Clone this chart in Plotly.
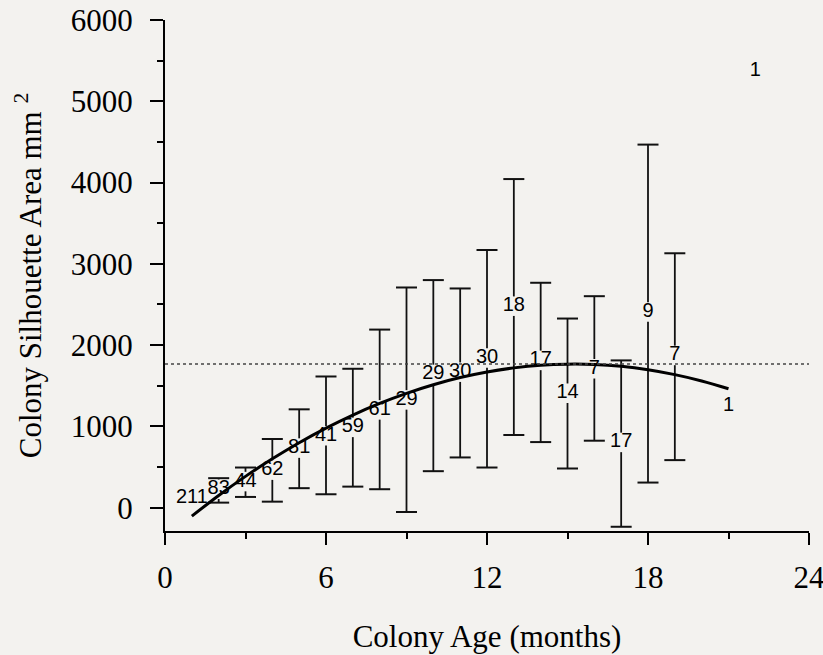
import plotly.graph_objects as go

# ---------------- data ----------------
months = [1, 2, 3, 4, 5, 6, 7, 8, 9, 10, 11, 12, 13, 14, 15, 16, 17, 18, 19, 21, 22]
n_labels = ["211", "83", "44", "62", "81", "41", "59", "61", "29", "29", "30", "30",
            "18", "17", "14", "7", "17", "9", "7", "1", "1"]
means = [125, 227, 321, 462, 733, 885, 988, 1203, 1326, 1639, 1667, 1840,
         2479, 1812, 1408, 1709, 803, 2408, 1873, 1256, 5368]
upper = [None, 363, 494, 845, 1210, 1614, 1709, 2191, 2709, 2800, 2697, 3170,
         4043, 2767, 2327, 2602, 1812, 4467, 3130, None, None]
lower = [None, 62, 132, 74, 240, 165, 259, 227, -53, 449, 618, 494,
         894, 807, 482, 824, -235, 309, 585, None, None]

fit_months = [1, 2, 3, 4, 5, 6, 7, 8, 9, 10, 11, 12, 13, 14, 15, 16, 17, 18, 19, 20, 21]
fit_values = [-104, 150, 385, 601, 799, 979, 1140, 1283, 1407, 1513, 1601, 1670,
              1720, 1753, 1766, 1762, 1739, 1697, 1637, 1559, 1463]

REF_LEVEL = 1767

x_ticks = [0, 6, 12, 18, 24]
x_minor_ticks = [3, 9, 15, 21]
y_ticks = [0, 1000, 2000, 3000, 4000, 5000, 6000]
y_minor_ticks = [500, 1500, 2500, 3500, 4500, 5500]

# ---------------- styling ----------------
BG = "#f3f2ef"
SERIF = "Liberation Serif"
SANS = "Liberation Sans"
GAP = 120  # half height (data units) of the break in each bar around its label

bar_x, bar_y, cap_x, cap_y = [], [], [], []
for m, mu, hi, lo in zip(months, means, upper, lower):
    if hi is None or lo is None:
        continue
    top_base = mu + GAP
    if hi > top_base:
        bar_x += [m, m, None]
        bar_y += [top_base, hi, None]
    bot_base = mu - GAP
    if lo < bot_base:
        bar_x += [m, m, None]
        bar_y += [bot_base, lo, None]
    cap_x += [m, m]
    cap_y += [hi, lo]

fig = go.Figure()

fig.add_hline(y=REF_LEVEL, line=dict(color="#444444", width=1.5, dash="dot"))

fig.add_trace(go.Scatter(x=bar_x, y=bar_y, mode="lines",
                         line=dict(color="#111111", width=1.8),
                         hoverinfo="skip", showlegend=False))
fig.add_trace(go.Scatter(x=cap_x, y=cap_y, mode="markers",
                         marker=dict(symbol="line-ew", size=15,
                                     line=dict(color="#111111", width=2)),
                         hoverinfo="skip", showlegend=False))
fig.add_trace(go.Scatter(x=fit_months, y=fit_values, mode="lines",
                         line=dict(color="black", width=3, shape="spline"),
                         hoverinfo="skip", showlegend=False))
fig.add_trace(go.Scatter(x=months, y=means, mode="text", text=n_labels,
                         textposition="middle center",
                         textfont=dict(family=SANS, size=20, color="black"),
                         showlegend=False))

fig.update_layout(
    width=823, height=655,
    margin=dict(l=165, r=14, t=20, b=124),
    paper_bgcolor=BG, plot_bgcolor=BG,
    showlegend=False,
    font=dict(family=SERIF, size=31, color="black"),
)

fig.update_xaxes(
    range=[0, 24], tickmode="array", tickvals=x_ticks,
    automargin=False, ticklabeloverflow="allow",
    ticks="outside", ticklen=12, tickwidth=2, tickcolor="black",
    showline=True, linewidth=2, linecolor="black",
    showgrid=False, zeroline=False,
    minor=dict(tickmode="array", tickvals=x_minor_ticks, ticks="outside",
               ticklen=6, tickwidth=2, tickcolor="black", showgrid=False),
    ticklabelstandoff=6,
    title=dict(text="Colony Age (months)", standoff=31,
               font=dict(family=SERIF, size=31)),
)
fig.update_yaxes(
    range=[-287, 6000], tickmode="array", tickvals=y_ticks,
    automargin=False, ticklabeloverflow="allow",
    ticks="outside", ticklen=13, tickwidth=2, tickcolor="black",
    showline=True, linewidth=2, linecolor="black",
    showgrid=False, zeroline=False,
    minor=dict(tickmode="array", tickvals=y_minor_ticks, ticks="outside",
               ticklen=6, tickwidth=2, tickcolor="black", showgrid=False),
    ticklabelstandoff=11,
    title=dict(text="Colony Silhouette Area mm <sup>2</sup>", standoff=20,
               font=dict(family=SERIF, size=31)),
)

fig.write_html(
    "out.html",
    config={"displayModeBar": False},
    post_script="document.body.style.margin='0';document.body.style.background='" + BG + "';",
)
